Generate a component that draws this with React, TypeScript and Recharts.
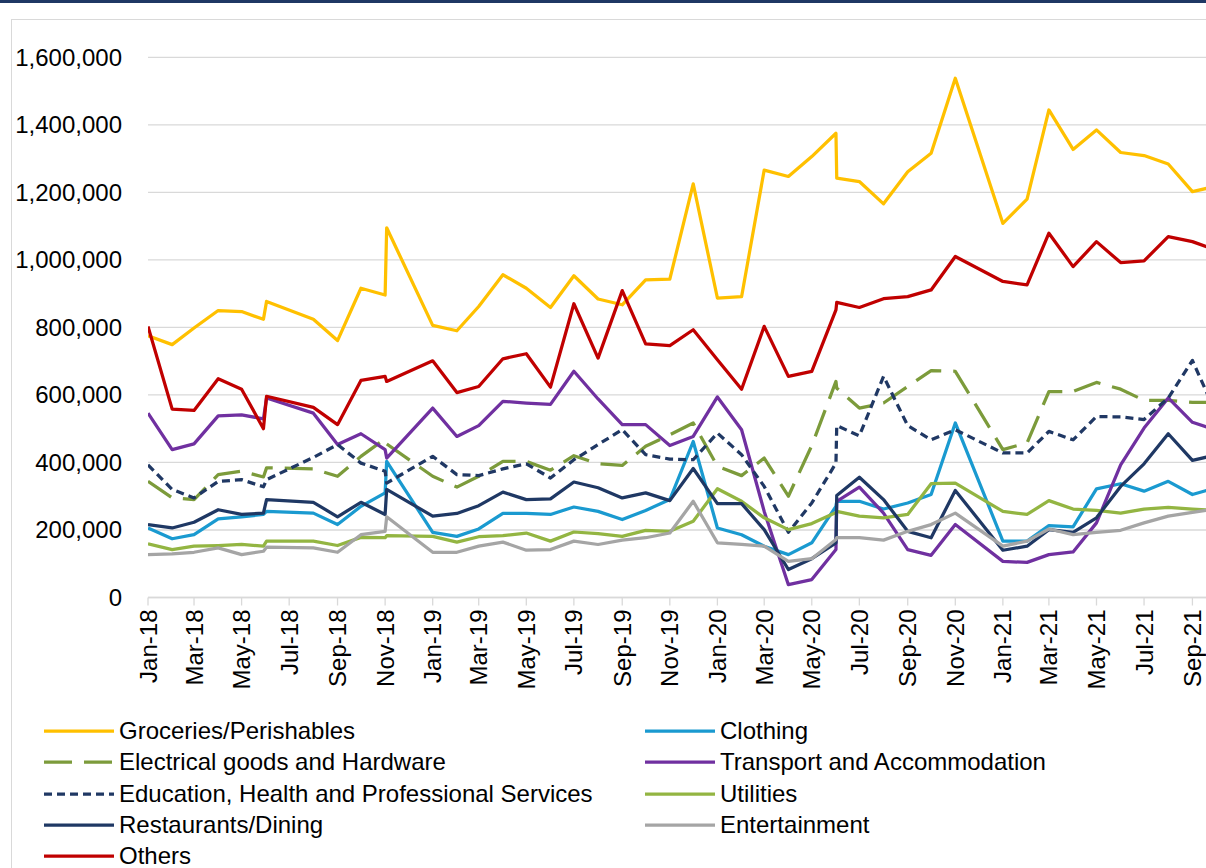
import { LineChart, Line, XAxis, YAxis, CartesianGrid, Legend } from "recharts";

// observation dates (the source has a few doubled / skipped months)
const DATES = [
  "2018-01-01", "2018-02-01", "2018-03-01", "2018-04-01", "2018-05-01", "2018-05-29",
  "2018-06-02", "2018-08-01", "2018-09-01", "2018-10-01", "2018-11-01", "2018-11-03",
  "2019-01-01", "2019-02-01", "2019-03-01", "2019-04-01", "2019-05-01", "2019-06-01",
  "2019-07-01", "2019-08-01", "2019-09-01", "2019-10-01", "2019-11-01", "2019-12-01",
  "2020-01-01", "2020-02-01", "2020-03-01", "2020-04-01", "2020-05-01", "2020-06-01",
  "2020-06-02", "2020-07-01", "2020-08-01", "2020-09-01", "2020-10-01", "2020-11-01",
  "2021-01-01", "2021-02-01", "2021-03-01", "2021-04-01", "2021-05-01", "2021-06-01",
  "2021-07-01", "2021-08-01", "2021-09-01", "2021-10-01",
];

// values in thousands
const GROCERIES = [
  775, 749, 798, 850, 847, 824, 877, 824, 761, 916, 896, 1095,
  806, 790, 862, 956, 916, 859, 953, 884, 867, 941, 943, 1225,
  887, 891, 1266, 1247, 1306, 1375, 1242, 1232, 1166, 1261, 1316, 1538,
  1108, 1180, 1444, 1327, 1385, 1318, 1309, 1284, 1202, 1218,
];
const CLOTHING = [
  206, 174, 186, 233, 239, 246, 255, 250, 216, 270, 310, 403,
  193, 181, 203, 249, 249, 246, 268, 255, 231, 258, 290, 462,
  206, 186, 152, 127, 162, 270, 285, 285, 262, 280, 305, 517,
  167, 167, 213, 209, 322, 337, 315, 344, 305, 325,
];
const ELECTRICAL = [
  344, 295, 290, 364, 374, 357, 384, 381, 359, 418, 470, 455,
  359, 327, 359, 403, 403, 377, 420, 396, 391, 448, 482, 517,
  389, 361, 413, 300, 450, 640, 620, 561, 576, 625, 672, 670,
  438, 458, 610, 610, 637, 617, 584, 584, 578, 578,
];
const TRANSPORT = [
  546, 438, 455, 538, 541, 529, 591, 546, 453, 485, 438, 413,
  561, 477, 509, 581, 576, 572, 670, 588, 512, 512, 450, 477,
  594, 497, 255, 38, 53, 142, 285, 327, 250, 142, 125, 216,
  107, 104, 127, 135, 221, 393, 502, 591, 519, 496,
];
const EDUCATION = [
  393, 320, 295, 344, 349, 328, 349, 415, 453, 398, 374, 339,
  418, 364, 361, 381, 396, 354, 408, 453, 497, 423, 410, 408,
  487, 423, 329, 193, 280, 398, 509, 479, 655, 509, 467, 497,
  428, 428, 492, 467, 536, 535, 527, 591, 702, 547,
];
const UTILITIES = [
  159, 142, 152, 154, 157, 152, 167, 167, 154, 178, 177, 183,
  181, 164, 180, 183, 191, 167, 194, 189, 181, 199, 196, 226,
  322, 285, 236, 201, 219, 252, 255, 241, 236, 246, 337, 339,
  255, 246, 287, 262, 258, 250, 262, 267, 262, 258,
];
const RESTAURANTS = [
  216, 206, 223, 260, 246, 250, 290, 282, 239, 282, 246, 320,
  241, 249, 272, 312, 290, 292, 342, 325, 295, 310, 287, 382,
  278, 278, 201, 83, 115, 162, 302, 356, 290, 196, 177, 317,
  140, 152, 201, 193, 236, 329, 396, 485, 406, 422,
];
const ENTERTAINMENT = [
  127, 129, 134, 147, 127, 137, 149, 147, 134, 186, 196, 239,
  134, 134, 152, 164, 140, 142, 167, 157, 170, 177, 191, 285,
  162, 157, 152, 107, 115, 172, 177, 177, 170, 196, 216, 250,
  152, 167, 203, 186, 193, 199, 221, 241, 252, 262,
];
const OTHERS = [
  803, 558, 554, 648, 617, 500, 596, 563, 512, 643, 655, 640,
  701, 607, 625, 707, 722, 623, 870, 709, 909, 751, 746, 793,
  704, 617, 803, 655, 670, 852, 874, 859, 885, 891, 911, 1010,
  936, 926, 1079, 980, 1054, 992, 997, 1069, 1054, 1029,
];

const TICK_LABELS = [
  "Jan-18", "Mar-18", "May-18", "Jul-18", "Sep-18", "Nov-18",
  "Jan-19", "Mar-19", "May-19", "Jul-19", "Sep-19", "Nov-19",
  "Jan-20", "Mar-20", "May-20", "Jul-20", "Sep-20", "Nov-20",
  "Jan-21", "Mar-21", "May-21", "Jul-21", "Sep-21",
];
const Y_TICKS = [0, 200000, 400000, 600000, 800000, 1000000, 1200000, 1400000, 1600000];

const MONTHS = ["Jan", "Feb", "Mar", "Apr", "May", "Jun", "Jul", "Aug", "Sep", "Oct", "Nov", "Dec"];
const DAY0 = Date.UTC(2018, 0, 1);
const toDay = (y: number, m: number, d: number) => (Date.UTC(y, m - 1, d) - DAY0) / 86400000;
const isoToDay = (iso: string) => {
  const [y, m, d] = iso.split("-").map(Number);
  return toDay(y, m, d);
};
const TICK_DAYS = TICK_LABELS.map((l) => {
  const [mon, yy] = l.split("-");
  return toDay(2000 + Number(yy), MONTHS.indexOf(mon) + 1, 1);
});
const tickLabel = new Map(TICK_DAYS.map((d, i) => [d, TICK_LABELS[i]]));

const SERIES = [
  { key: "groceries", name: "Groceries/Perishables", color: "#FFC000", dash: undefined, values: GROCERIES },
  { key: "clothing", name: "Clothing", color: "#1A9AD0", dash: undefined, values: CLOTHING },
  { key: "electrical", name: "Electrical goods and Hardware", color: "#7C9B3B", dash: "28 12", values: ELECTRICAL },
  { key: "transport", name: "Transport and Accommodation", color: "#7030A0", dash: undefined, values: TRANSPORT },
  { key: "education", name: "Education, Health and Professional Services", color: "#203864", dash: "8 5", values: EDUCATION },
  { key: "utilities", name: "Utilities", color: "#93B542", dash: undefined, values: UTILITIES },
  { key: "restaurants", name: "Restaurants/Dining", color: "#1F3864", dash: undefined, values: RESTAURANTS },
  { key: "entertainment", name: "Entertainment", color: "#A5A5A5", dash: undefined, values: ENTERTAINMENT },
  { key: "others", name: "Others", color: "#C00000", dash: undefined, values: OTHERS },
];

const data = DATES.map((iso, i) => {
  const row: Record<string, number> = { day: isoToDay(iso) };
  SERIES.forEach((s) => (row[s.key] = s.values[i] * 1000));
  return row;
});

function XTick({ x, y, payload }: any) {
  return (
    <text
      x={x}
      y={y}
      transform={`rotate(-90 ${x} ${y})`}
      textAnchor="end"
      dominantBaseline="central"
      fontSize={24}
      fill="#000"
    >
      {tickLabel.get(payload.value)}
    </text>
  );
}

function LegendBox() {
  return (
    <div style={{ display: "grid", gridTemplateColumns: "601px 560px", fontSize: 24, color: "#000" }}>
      {SERIES.map((s) => (
        <div key={s.key} style={{ display: "flex", alignItems: "center", height: 31.25, whiteSpace: "nowrap" }}>
          <svg width={70} height={10} style={{ marginRight: 5 }}>
            <line x1={0} y1={5} x2={70} y2={5} stroke={s.color} strokeWidth={3.25} strokeDasharray={s.dash} />
          </svg>
          <span>{s.name}</span>
        </div>
      ))}
    </div>
  );
}

export default function App() {
  return (
    <div
      style={{
        position: "absolute",
        left: 0,
        top: 0,
        width: 1206,
        height: 868,
        overflow: "hidden",
        background: "#fff",
        fontFamily: "'Liberation Sans', Arial, sans-serif",
      }}
    >
      <div style={{ position: "absolute", left: 0, top: 0, width: 1206, height: 3, background: "#1F3864" }} />
      <div
        style={{
          position: "absolute",
          left: 11,
          top: 19,
          width: 1400,
          height: 1000,
          border: "1px solid #D9D9D9",
        }}
      />
      <div style={{ position: "absolute", left: 0, top: 0 }}>
        <LineChart width={1240} height={868} data={data} margin={{ top: 57.3, right: 0, bottom: 170.5, left: 0 }}>
          <CartesianGrid vertical={false} stroke="#D9D9D9" strokeWidth={1.3} />
          <XAxis
            type="number"
            dataKey="day"
            domain={[0, 1400]}
            ticks={TICK_DAYS}
            interval={0}
            allowDataOverflow
            height={100}
            tickSize={8}
            tickMargin={4}
            axisLine={{ stroke: "#D9D9D9", strokeWidth: 1.3 }}
            tickLine={{ stroke: "#D9D9D9", strokeWidth: 1.3 }}
            tick={<XTick />}
          />
          <YAxis
            domain={[0, 1600000]}
            ticks={Y_TICKS}
            interval={0}
            width={148}
            tickSize={0}
            tickMargin={26}
            axisLine={false}
            tickLine={false}
            tick={{ fontSize: 24, fill: "#000" }}
            tickFormatter={(v: number) => v.toLocaleString("en-US")}
          />
          {SERIES.map((s) => (
            <Line
              key={s.key}
              type="linear"
              dataKey={s.key}
              name={s.name}
              stroke={s.color}
              strokeWidth={3.25}
              strokeDasharray={s.dash}
              strokeLinejoin="round"
              dot={false}
              activeDot={false}
              isAnimationActive={false}
            />
          ))}
          <Legend
            layout="vertical"
            align="center"
            verticalAlign="middle"
            content={<LegendBox />}
            wrapperStyle={{ left: 44, top: 715.5, width: 1162, height: 160 }}
          />
        </LineChart>
      </div>
    </div>
  );
}
